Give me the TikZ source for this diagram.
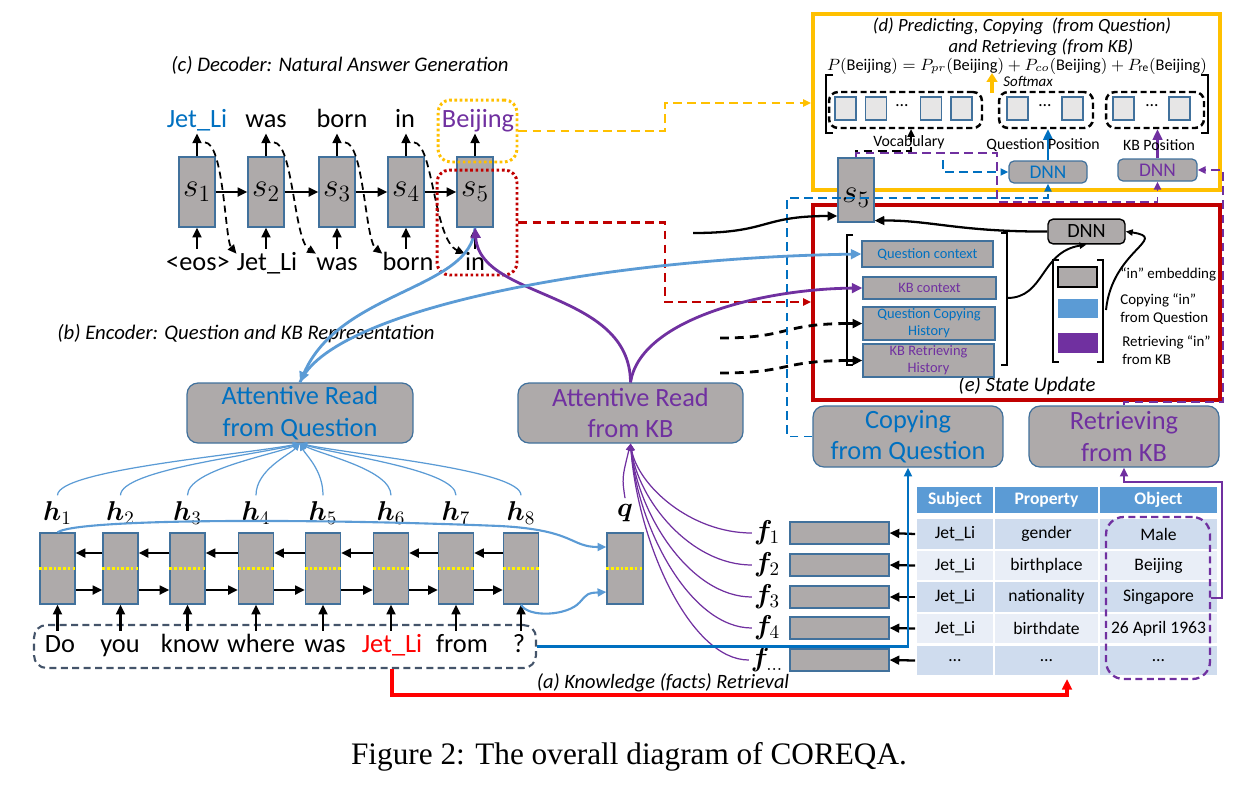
\RequirePackage{fix-cm}
\documentclass[tikz,border=0pt]{standalone}
\usepackage{amsmath, bm}
\usepackage{fontspec}
\setmainfont{Carlito}
\newfontfamily\capfont{Liberation Serif}
\usetikzlibrary{arrows.meta, positioning, calc}
\definecolor{myblue}{RGB}{0,112,192}
\definecolor{lineblue}{RGB}{91,155,213}
\definecolor{mypurple}{RGB}{112,48,160}
\definecolor{myorange}{RGB}{255,192,0}
\definecolor{darkred}{RGB}{192,0,0}
\definecolor{boxgray}{RGB}{174,170,170}
\definecolor{boxedge}{RGB}{65,113,156}
\definecolor{lightsq}{RGB}{231,230,230}
\definecolor{slate}{RGB}{68,84,106}
\definecolor{rowdark}{RGB}{207,220,238}
\definecolor{rowlight}{RGB}{233,238,247}

\tikzset{
  bigtxt/.style={font=\fontsize{15}{18}\selectfont},
  dword/.style={bigtxt, anchor=base, inner sep=0, text height=0.42cm, text depth=0.12cm},
  graybox/.style={draw=boxedge, fill=boxgray, line width=0.7pt, inner sep=0},
  roundbox/.style={graybox, rounded corners=0.22cm, align=center, bigtxt},
  cell/.style={draw=white, line width=1pt, minimum height=0.63cm, inner sep=0, font=\fontsize{10}{12}\selectfont},
  arr/.style={-{Triangle[length=5.5pt,width=5pt]}, line width=1.3pt},
  thinarr/.style={-{Triangle[length=4pt,width=3.5pt]}, line width=0.7pt},
  dashline/.style={dash pattern=on 5pt off 3.5pt, line width=1.6pt},
  dashthin/.style={dash pattern=on 5pt off 3pt, line width=1.1pt, -{Triangle[length=4.5pt,width=4pt]}},
  dotbox/.style={line width=1.7pt, dash pattern=on 1.5pt off 1.5pt, rounded corners=0.25cm},
  fatarr/.style={line width=1.6pt, -{Triangle[length=6pt,width=5.5pt]}},
  ctxbox/.style={graybox, align=center, font=\fontsize{8.2}{9.8}\selectfont}
}

\begin{document}
\begin{tikzpicture}[x=0.02cm, y=-0.02cm]
    \useasboundingbox (0,0) rectangle (1253,789);

    % (c) Decoder
    \node[font=\fontsize{11.8}{14}\selectfont\itshape] (ctitle) at (340,65) {(c) Decoder: Natural Answer Generation};
    \foreach \x [count=\i] in {197,266,337,406,475}
      \node[graybox, minimum width=0.72cm, minimum height=1.4cm, font=\fontsize{19}{22}\selectfont] (s\i) at (\x,192) {$s_{\i}$};
    \node[dword, text=myblue] (tw1) at (197,127) {Jet\_Li};
    \node[dword] (tw2) at (266,127) {was};
    \node[dword] (tw3) at (342,127) {born};
    \node[dword] (tw4) at (405,127) {in};
    \node[dword, text=mypurple] (tw5) at (478,127) {Beijing};
    \node[dword] (bw1) at (198,270) {<eos>};
    \node[dword] (bw2) at (267,270) {Jet\_Li};
    \node[dword] (bw3) at (337,270) {was};
    \node[dword] (bw4) at (408,270) {born};
    \node[dword] (bw5) at (475,270) {in};
    \foreach \i in {1,...,5} {
      \draw[arr] (s\i.north) -- (s\i.north |- tw\i.south);
      \draw[arr] (bw\i.north -| s\i.south) -- (s\i.south);
    }
    \foreach \x/\i/\j in {197/1/2,266/2/3,337/3/4,406/4/5} {
      \draw[arr] (s\i.east) -- (s\j.west);
      \draw[-{Triangle[length=5pt,width=4.5pt]}, line width=1pt, dash pattern=on 4pt off 2.5pt] ([xshift=0.16cm,yshift=0.28cm]s\i.north) .. controls (\x+27,143) and (\x+28,240) .. ([yshift=-0.1cm]bw\j.north west);
    }
    \node[draw=myorange, dotbox, minimum width=1.58cm, minimum height=1.24cm] (ybox) at (477.5,131) {};
    \node[draw=darkred, dotbox, minimum width=1.6cm, minimum height=2.1cm] (redbox) at (477,222.5) {};

    % (d) Predicting, Copying and Retrieving
    \node[draw=myorange, line width=1.8pt, minimum width=8.14cm, minimum height=3.52cm] (dbox) at (1016.5,102) {};
    \node[font=\fontsize{10.6}{12}\selectfont\itshape] (dt1) at (1022,26) {(d) Predicting, Copying~ (from Question)};
    \node[font=\fontsize{10.6}{12}\selectfont\itshape] (dt2) at (1041,47) {and Retrieving (from KB)};
    \node[font=\fontsize{9.3}{11}\selectfont] (pform) at (1017,66) {$P(\mathrm{Beijing}) = P_{pr}(\mathrm{Beijing}) + P_{co}(\mathrm{Beijing}) + P_{\mathrm{re}}(\mathrm{Beijing})$};
    \node[font=\fontsize{8.5}{10}\selectfont\itshape, anchor=west, inner sep=0] (smax) at (1003,81) {Softmax};
    \coordinate (smlo) at (992,93);
    \coordinate (smhi) at (992,73);
    \draw[myorange, line width=2pt, -{Triangle[length=5pt,width=6pt]}] (smlo) -- (smhi);
    \draw[line width=1.5pt] (833,75) -- (826,75) -- (826,133) -- (833,133);
    \draw[line width=1.5pt] (1201,75) -- (1208,75) -- (1208,133) -- (1201,133);
    \node[draw, line width=1.4pt, dash pattern=on 3.5pt off 2pt, rounded corners=0.18cm, minimum width=3.06cm, minimum height=0.72cm] (vocab) at (905.5,110) {};
    \node[draw, line width=1.4pt, dash pattern=on 3.5pt off 2pt, rounded corners=0.18cm, minimum width=1.88cm, minimum height=0.72cm] (qpos) at (1046,110) {};
    \node[draw, line width=1.4pt, dash pattern=on 3.5pt off 2pt, rounded corners=0.18cm, minimum width=1.96cm, minimum height=0.72cm] (kbpos) at (1155,110) {};
    \foreach \x [count=\i] in {845.5,876,931,961.5,1017.5,1072.5,1123.5,1179.5}
      \node[draw=boxedge, fill=lightsq, minimum width=0.42cm, minimum height=0.46cm, inner sep=0, line width=0.6pt] (sq\i) at (\x,108.5) {};
    \foreach \x [count=\i] in {902,1045,1152}
      \node[font=\fontsize{10}{12}\selectfont] (dots\i) at (\x,106) {\dots};
    \node[graybox, rounded corners=0.1cm, minimum width=1.56cm, minimum height=0.44cm, text=myblue, font=\fontsize{11}{13}\selectfont] (dnnq) at (1048,172) {DNN};
    \node[graybox, rounded corners=0.1cm, minimum width=1.58cm, minimum height=0.44cm, text=mypurple, font=\fontsize{11}{13}\selectfont] (dnnkb) at (1157.5,170) {DNN};
    \draw[myblue, fatarr, line width=1.2pt] (dnnq.north) -- (dnnq.north |- qpos.south);
    \draw[mypurple, fatarr, line width=1.2pt] (dnnkb.north) -- (dnnkb.north |- kbpos.south);
    \node[font=\fontsize{9}{11}\selectfont] (vlab) at (909,142) {Vocabulary};
    \node[font=\fontsize{9}{11}\selectfont] (qplab) at (1043,145) {Question Position};
    \node[font=\fontsize{9}{11}\selectfont] (kplab) at (1159,145) {KB Position};

    % (e) State Update
    \node[draw=darkred, line width=1.8pt, minimum width=8.14cm, minimum height=3.9cm] (ebox) at (1016.5,302.5) {};
    \node[font=\fontsize{11.8}{13}\selectfont\itshape] (etitle) at (1027,386) {(e) State Update};
    \node[ctxbox, text=myblue, minimum width=2.62cm, minimum height=0.52cm] (qctx) at (927.5,254) {Question context};
    \node[ctxbox, text=mypurple, minimum width=2.66cm, minimum height=0.44cm] (kbctx) at (929.5,288) {KB context};
    \node[ctxbox, text=myblue, minimum width=2.64cm, minimum height=0.66cm] (qhist) at (929,323.5) {Question Copying\\History};
    \node[ctxbox, text=mypurple, minimum width=2.62cm, minimum height=0.66cm] (kbhist) at (928.5,360.5) {KB Retrieving\\History};
    \draw[line width=1.4pt] (853,235) -- (847,235) -- (847,365) -- (853,365);
    \draw[line width=1.4pt] (1001,233) -- (1007,233) -- (1007,365) -- (1001,365);
    \draw[arr] ([xshift=-0.32cm]qhist.west) -- (qhist.west);
    \draw[arr] ([xshift=-0.32cm]kbhist.west) -- (kbhist.west);
    \coordinate (hq) at (720,338);
    \coordinate (hk) at (720,373);
    \draw[dashline] (hq) .. controls (790,338) and (780,324) .. ([xshift=-0.32cm]qhist.west);
    \draw[dashline] (hk) .. controls (790,373) and (780,361) .. ([xshift=-0.32cm]kbhist.west);
    \node[draw=black, fill=boxgray, rounded corners=0.1cm, line width=0.8pt, minimum width=1.54cm, minimum height=0.42cm, font=\fontsize{11.5}{13}\selectfont] (dnne) at (1086.5,231.5) {DNN};
    % legend
    \draw[line width=1.4pt] (1059,260) -- (1053,260) -- (1053,362) -- (1059,362);
    \draw[line width=1.4pt] (1097,260) -- (1103,260) -- (1103,362) -- (1097,362);
    \node[draw=black, fill=boxgray, minimum width=0.78cm, minimum height=0.4cm, inner sep=0, line width=0.8pt] (legg) at (1077.5,277) {};
    \node[draw=lineblue, fill=lineblue, minimum width=0.78cm, minimum height=0.36cm, inner sep=0] (legb) at (1077.5,308) {};
    \node[draw=mypurple, fill=mypurple, minimum width=0.78cm, minimum height=0.38cm, inner sep=0] (legp) at (1077.5,342.5) {};
    \node[anchor=west, inner sep=0, align=left, font=\fontsize{8.5}{10}\selectfont] (legt1) at (1120,274) {“in” embedding};
    \node[anchor=west, inner sep=0, align=left, font=\fontsize{8.5}{10}\selectfont] (legt2) at (1120,309) {Copying “in”\\from Question};
    \node[anchor=west, inner sep=0, align=left, font=\fontsize{8.5}{10}\selectfont] (legt3) at (1122,350) {Retrieving “in”\\from KB};
    \coordinate (ebr) at (1007,298);
    \coordinate (lbr) at (1106,310);
    \draw[thinarr, line width=1.1pt] (ebr) .. controls (1045,298) and (1040,252) .. (dnne.south);
    \draw[thinarr, line width=1.1pt] (lbr) .. controls (1112,250) and (1170,238) .. (dnne.east);

    % Copying / Retrieving
    \node[roundbox, text=myblue, minimum width=3.8cm, minimum height=1.22cm] (copyq) at (908,436.5) {Copying\\from Question};
    \node[roundbox, text=mypurple, minimum width=3.8cm, minimum height=1.22cm] (retkb) at (1124,436.5) {Retrieving\\from KB};

    % new state s5
    \node[graybox, minimum width=0.72cm, minimum height=1.28cm, label={[yshift=-0.16cm, font=\fontsize{19}{22}\selectfont]center:$s_5$}] (sfive) at (856,190) {};
    \coordinate (vin) at (911,129);
    \coordinate (dq) at (943,160);
    \coordinate (sin) at (693,233);
    \draw[dashthin] (sfive.north) |- (911,151) -- (vin);
    \draw[mypurple, dashthin] (sfive.north) |- (997,153) -- (997,202) -| (dnnkb.south);
    \draw[mypurple, dashthin] (retkb.north) |- (1223,402) |- (dnnkb.east);
    \draw[myblue, dashthin] (copyq.west) -| (787,198) -| (dnnq.south);
    \draw[myblue, dashthin] (dq) |- (dnnq.west);
    \draw[arr] (sin) .. controls (770,233) and (760,216) .. ([yshift=-0.52cm]sfive.west);
    \draw[arr] (dnne.west) .. controls (960,232) and (930,220) .. ([yshift=0.04cm]sfive.south east);

    % links from the decoder
    \coordinate (dleft) at (811,103);
    \coordinate (eleft) at (811,302);
    \draw[myorange, dashthin, line width=1.3pt] (ybox.east) -| (665,103) -- (dleft);
    \draw[darkred, dashthin, line width=1.3pt] (redbox.east) -| (665,302) -- (eleft);

    % (b) Encoder
    \node[font=\fontsize{11.8}{14}\selectfont\itshape] (btitle) at (246,334) {(b) Encoder: Question and KB Representation};
    \node[roundbox, text=myblue, minimum width=4.52cm, minimum height=1.2cm] (arq) at (300,413) {Attentive Read\\from Question};
    \node[roundbox, text=mypurple, minimum width=4.5cm, minimum height=1.2cm] (arkb) at (630.5,413) {Attentive Read\\from KB};
    \foreach \x [count=\i] in {57.5,120.5,187.5,256,323,391,456,521} {
      \node[graybox, minimum width=0.7cm, minimum height=1.42cm] (h\i) at (\x,568.5) {};
      \draw[yellow, line width=1.6pt, dash pattern=on 1.5pt off 1.2pt] (h\i.west) -- (h\i.east);
      \node[font=\fontsize{15.5}{18}\selectfont] (hl\i) at (\x,513) {$\bm{h}_{\i}$};
      \draw[lineblue, thinarr] (hl\i.north) .. controls (\x,470) and ({300+(\x-300)*0.25},455) .. (arq.south);
    }
    \foreach \i/\j in {1/2,2/3,3/4,4/5,5/6,6/7,7/8} {
      \draw[arr] ([yshift=0.31cm]h\j.west) -- ([yshift=0.31cm]h\i.east);
      \draw[arr] ([yshift=-0.43cm]h\i.east) -- ([yshift=-0.43cm]h\j.west);
    }
    \node[draw=slate, line width=1.2pt, dash pattern=on 4pt off 2.5pt, rounded corners=0.25cm, minimum width=10.04cm, minimum height=0.86cm] (qbox) at (285,646.5) {};
    \foreach \x/\w [count=\i] in {60/Do,120/you,190/know,261/where,325/was,392/{\textcolor{red}{Jet\_Li}},462/from,519/?}
      \node[dword] (qw\i) at (\x,652) {\w};
    \foreach \i in {1,...,8}
      \draw[arr] (h\i.south |- qw\i.north) -- (h\i.south);

    % question vector q
    \node[graybox, minimum width=0.72cm, minimum height=1.42cm] (q) at (625,568.5) {};
    \draw[yellow, line width=1.6pt, dash pattern=on 1.5pt off 1.2pt] (q.west) -- (q.east);
    \node[font=\fontsize{15.5}{18}\selectfont] (ql) at (625,513) {$\bm{q}$};
    \draw[lineblue, line width=1.2pt, -{Triangle[length=5pt,width=4.5pt]}] (h1.north) .. controls (75,519) and (300,518) .. (500,526) .. controls (575,530) and (570,547) .. ([yshift=0.43cm]q.west);
    \draw[lineblue, line width=1.2pt, -{Triangle[length=5pt,width=4.5pt]}] (h8.south) .. controls (528,618) and (568,616) .. (580,602) .. controls (588,593) .. ([yshift=-0.47cm]q.west);
    \draw[mypurple, thinarr] (ql.north) .. controls (622,478) .. (arkb.south);

    % attentive reads
    \draw[lineblue, fatarr] (s5.south) .. controls (472,290) and (340,290) .. (arq.north);
    \draw[mypurple, fatarr, {Triangle[length=6pt,width=5.5pt]}-] (s5.south) .. controls (480,300) and (630,290) .. (arkb.north);
    \draw[lineblue, fatarr] (arq.north) .. controls (330,310) and (600,258) .. (qctx.west);
    \draw[mypurple, fatarr] (arkb.north) .. controls (640,320) and (760,289) .. (kbctx.west);

    % facts
    \foreach \y/\s [count=\r] in {533/1,565/2,597/3,628/4,660/{\dots}} {
      \node[graybox, minimum width=1.98cm, minimum height=0.44cm] (fb\r) at (839.5,\y) {};
      \node[font=\fontsize{15.5}{18}\selectfont, inner sep=1pt] (fl\r) at (767,\y) {$\bm{f}_{\s}$};
      \draw[mypurple, thinarr] (fl\r.west) .. controls (690,\y) and (638,{446+(\y-446)*0.45}) .. (arkb.south);
    }

    % KB table
    \foreach \x/\w/\h in {955/1.56/Subject,1046.5/2.1/Property,1158.5/2.38/Object}
      \node[cell, fill=lineblue, text=white, minimum width=\w cm, minimum height=0.56cm, font=\fontsize{10}{12}\selectfont\bfseries] (hd\h) at (\x,500) {\h};
    \foreach \y/\a/\b/\c/\col [count=\r] in {534/Jet\_Li/gender/Male/rowdark,565.5/Jet\_Li/birthplace/Beijing/rowlight,597/Jet\_Li/nationality/Singapore/rowdark,628.5/Jet\_Li/birthdate/26 April 1963/rowlight,660.5/\dots/\dots/\dots/rowdark} {
      \node[cell, fill=\col, minimum width=1.56cm] (ta\r) at (955,\y) {\a};
      \node[cell, fill=\col, minimum width=2.1cm] (tb\r) at (1046.5,\y) {\b};
      \node[cell, fill=\col, minimum width=2.38cm] (tc\r) at (1158.5,\y) {\c};
      \draw[arr] (ta\r.west) -- (fb\r.east);
    }
    \node[draw=mypurple, line width=1.3pt, dash pattern=on 4pt off 2.5pt, rounded corners=0.35cm, minimum width=2.08cm, minimum height=3.24cm] (objbox) at (1158,598) {};
    \draw[mypurple, line width=1.2pt, -{Triangle[length=5pt,width=4.5pt]}] (objbox.east) -| (1222,482) -| (retkb.south);
    \draw[myblue, line width=1.3pt, -{Triangle[length=5pt,width=4.5pt]}] (qbox.east) -| (copyq.south);

    % (a) Knowledge retrieval
    \coordinate (kbin) at (1067,679);
    \draw[red, line width=2pt, -{Triangle[length=6pt,width=5.5pt]}] (qw6.south |- qbox.south) |- (1067,695) -- (kbin);
    \node[font=\fontsize{11.6}{13}\selectfont\itshape] (atitle) at (663,683) {(a) Knowledge (facts) Retrieval};

    % caption
    \node[font=\capfont\fontsize{17.8}{20}\selectfont] (cap) at (629,757) {Figure 2: The overall diagram of COREQA.};
\end{tikzpicture}
\end{document}
